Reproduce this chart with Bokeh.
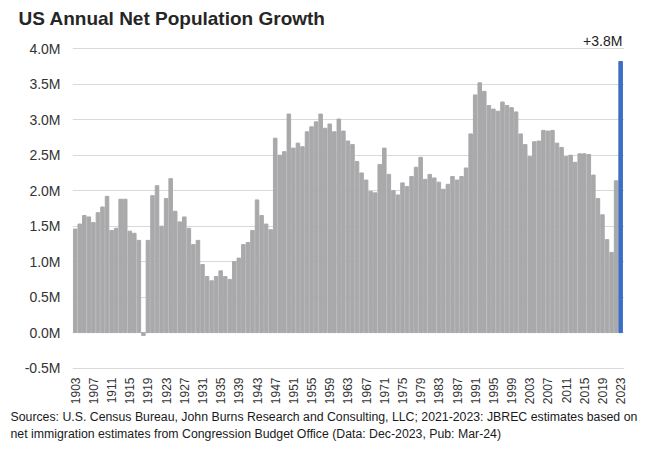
import math
from bokeh.plotting import figure
from bokeh.models import ColumnDataSource, Range1d, FixedTicker, PrintfTickFormatter, Label, Title
from bokeh.embed import file_html
from bokeh.resources import INLINE

# ---------------- data (millions of people) ----------------
years = list(range(1903, 2024))
growth = [
    1.46, 1.53, 1.65, 1.63, 1.55, 1.69, 1.77, 1.92, 1.44, 1.47,   # 1903-1912
    1.88, 1.88, 1.43, 1.40, 1.30, -0.04, 1.30, 1.93, 2.07, 1.50,  # 1913-1922
    1.89, 2.17, 1.71, 1.56, 1.63, 1.47, 1.24, 1.30, 0.96, 0.79,   # 1923-1932
    0.73, 0.79, 0.87, 0.79, 0.75, 1.00, 1.05, 1.24, 1.27, 1.44,   # 1933-1942
    1.87, 1.65, 1.53, 1.45, 2.74, 2.50, 2.55, 3.08, 2.60, 2.67,   # 1943-1952
    2.62, 2.83, 2.90, 2.97, 3.08, 2.88, 2.94, 2.83, 3.01, 2.84,   # 1953-1962
    2.70, 2.65, 2.41, 2.25, 2.15, 1.99, 1.97, 2.37, 2.60, 2.23,   # 1963-1972
    2.00, 1.94, 2.11, 2.06, 2.20, 2.33, 2.47, 2.16, 2.23, 2.18,   # 1973-1982
    2.12, 2.02, 2.09, 2.20, 2.15, 2.20, 2.32, 2.80, 3.35, 3.52,   # 1983-1992
    3.40, 3.20, 3.15, 3.12, 3.25, 3.20, 3.17, 3.11, 2.80, 2.65,   # 1993-2002
    2.48, 2.69, 2.70, 2.85, 2.84, 2.85, 2.67, 2.61, 2.48, 2.50,   # 2003-2012
    2.40, 2.52, 2.52, 2.51, 2.22, 1.89, 1.66, 1.31, 1.13, 2.14,   # 2013-2022
    3.82,                                                          # 2023
]
highlight_year = 2023
y_ticks = [-0.5, 0.0, 0.5, 1.0, 1.5, 2.0, 2.5, 3.0, 3.5, 4.0]
x_ticks = list(range(1903, 2024, 4))

title_text = "US Annual Net Population Growth"
source_lines = [
    "Sources: U.S. Census Bureau, John Burns Research and Consulting, LLC; 2021-2023: JBREC estimates based on",
    "net immigration estimates from Congression Budget Office (Data: Dec-2023, Pub: Mar-24)",
]

# ---------------- styling / geometry ----------------
GRAY = "#a9a9ab"
BLUE = "#3c6ec4"
FONT = "Liberation Sans"
TXT = "#333333"

W, H = 640, 461
BL, BR, BT, BB = 72, 16, 27, 92
X0, X1 = 1902.4, 2023.85
Y0, Y1 = -0.52, 4.3

colors = [BLUE if y == highlight_year else GRAY for y in years]
src = ColumnDataSource(dict(x=years, top=growth, color=colors))

p = figure(width=W, height=H, output_backend="svg", toolbar_location=None,
           x_range=Range1d(X0, X1), y_range=Range1d(Y0, Y1),
           min_border_left=BL, min_border_right=BR, min_border_top=BT,
           min_border_bottom=BB)
p.outline_line_color = None
p.background_fill_color = "white"
p.border_fill_color = "white"

p.vbar(x="x", top="top", bottom=0, width=0.78, color="color", source=src)

# axes
p.yaxis.ticker = FixedTicker(ticks=y_ticks)
p.yaxis.formatter = PrintfTickFormatter(format="%.1fM")
p.yaxis.axis_line_color = None
p.yaxis.major_tick_line_color = None
p.yaxis.minor_tick_line_color = None
p.yaxis.major_tick_out = 0
p.yaxis.major_tick_in = 0
p.yaxis.major_label_standoff = 12
p.yaxis.major_label_text_font = FONT
p.yaxis.major_label_text_font_size = "14px"
p.yaxis.major_label_text_color = TXT

p.xaxis.ticker = FixedTicker(ticks=x_ticks)
p.xaxis.major_label_orientation = math.pi / 2
p.xaxis.axis_line_color = None
p.xaxis.major_tick_line_color = None
p.xaxis.minor_tick_line_color = None
p.xaxis.major_tick_out = 0
p.xaxis.major_tick_in = 0
p.xaxis.major_label_standoff = 8
p.xaxis.major_label_text_font = FONT
p.xaxis.major_label_text_font_size = "12px"
p.xaxis.major_label_text_color = TXT

p.xgrid.grid_line_color = None
p.ygrid.grid_line_color = "#d9d9d9"
p.ygrid.grid_line_width = 1

# value label on the last bar
p.add_layout(Label(x=highlight_year + 0.39, y=growth[-1], y_offset=21,
                   text=f"+{growth[-1]:.1f}M", text_align="right", text_baseline="middle",
                   text_font=FONT, text_font_size="14px", text_color="#222222"))

# title
p.title.text = title_text
p.title.align = "left"
p.title.offset = 18 - BL
try:
    p.title.standoff = -3
except Exception:
    p.title.standoff = 0
p.title.vertical_align = "bottom"
p.title.text_font = FONT
p.title.text_font_size = "19px"
p.title.text_font_style = "bold"
p.title.text_color = "#262626"

# sources below the x axis
for i, line in enumerate(source_lines):
    p.add_layout(Title(text=line, align="left", offset=10 - BL,
                       standoff=1 if i == 0 else 0, vertical_align="bottom",
                       text_font=FONT, text_font_size="12.3px",
                       text_font_style="normal", text_color="#1a1a1a"), "below")

open("out.html", "w").write(file_html(p, INLINE))
